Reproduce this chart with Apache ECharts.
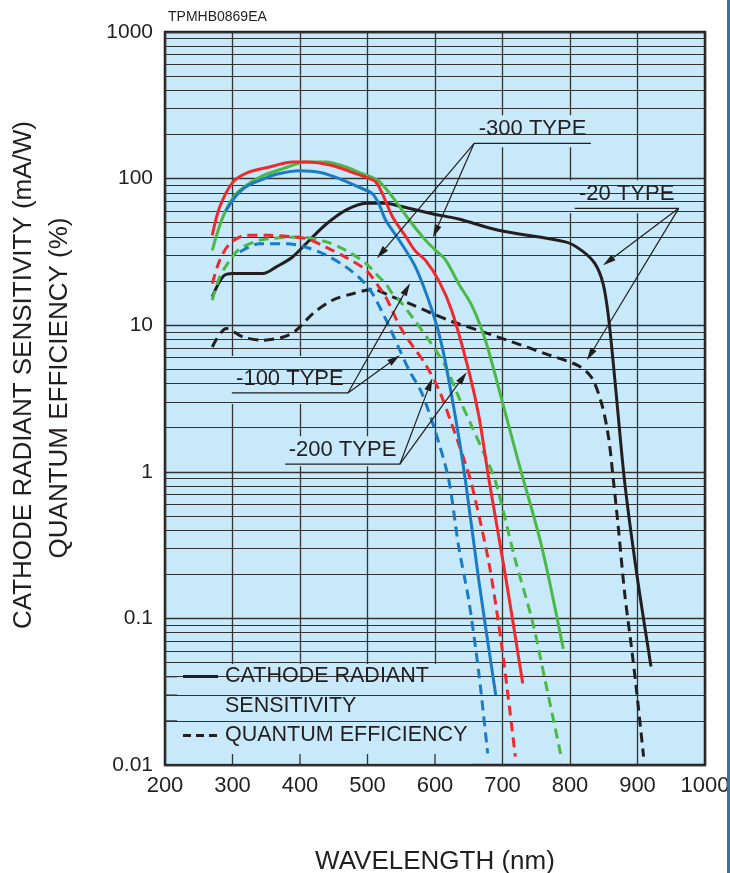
<!DOCTYPE html>
<html>
<head>
<meta charset="utf-8">
<script src="https://cdn.jsdelivr.net/npm/echarts@6/dist/echarts.min.js"></script>
<style>
html, body { margin: 0; padding: 0; background: #fff; }
#chart { width: 730px; height: 873px; }
</style>
</head>
<body>
<div id="chart"></div>
<script>
// [wavelength nm, value] pairs
// solid = cathode radiant sensitivity (mA/W), dashed = quantum efficiency (%)
const type100Sens = [[290,60],[305,76],[320,88],[340,97],[365,107],[400,113],[430,110],[458,100],[488,87],[507,79],[517,67],[527,52],[547,38],[571,25],[596,12.5],[611,7],[630,2.4],[645,0.88],[665,0.18],[690,0.03]];
const type200Sens = [[270,41],[281,64],[301,95],[325,111],[355,120],[389,130],[409,130],[448,123],[478,110],[498,102],[512,95],[522,79],[537,55],[557,40],[571,32],[586,27.7],[606,20],[625,12.5],[650,4.9],[665,2.4],[680,0.88],[704,0.2],[730,0.036]];
const type300Sens = [[270,32.4],[286,55],[306,79],[340,102],[375,117],[409,130],[439,130],[468,120],[488,110],[507,102],[517,96],[537,75],[562,52],[586,38],[601,32.4],[616,27.7],[635,19.2],[655,13.5],[675,7.8],[699,3.1],[724,1.15],[758,0.31],[790,0.062]];
const type20Sens = [[270,15.6],[286,21.5],[301,22.5],[345,22.5],[365,25],[389,29.2],[414,38],[439,49],[468,61],[498,68],[527,68],[547,65],[596,57.6],[635,53],[694,44.4],[793,37],[817,32.4],[837,26.3],[849,19.2],[857,11.4],[867,4],[881,0.85],[899,0.2],[920,0.047]];

const type100QE = [[311,31.6],[340,36],[380,36],[409,34],[439,30],[468,25],[493,20],[507,16.5],[527,11],[547,6.9],[562,4.9],[581,3.4],[606,1.56],[621,0.85],[635,0.31],[650,0.133],[665,0.042],[678,0.012]];
const type200QE = [[270,19.2],[281,27.7],[296,36],[320,41],[355,41],[389,40],[409,39],[439,34],[468,29],[498,23.7],[517,18.2],[527,15.6],[537,12.5],[547,10],[557,8.4],[567,7.2],[586,5.4],[606,3.6],[625,2.1],[645,1.14],[655,0.8],[680,0.237],[699,0.064],[719,0.0114]];
const type300QE = [[270,14.8],[281,21.3],[296,27.7],[311,33.3],[340,38],[355,39],[399,40],[439,37],[468,32.4],[498,26.3],[517,21.3],[527,19.2],[537,16.4],[547,14.8],[566,11.4],[591,7.9],[616,5.2],[635,3.24],[655,2.02],[675,1.26],[690,0.85],[719,0.25],[744,0.097],[763,0.038],[788,0.0108]];
const type20QE = [[270,7.1],[291,9.5],[316,8.3],[345,7.9],[375,8.3],[394,9.2],[419,12],[448,14.8],[478,16.4],[508,17.5],[537,15.6],[566,13.8],[596,12],[625,10.6],[665,9.2],[714,7.7],[763,6.4],[812,5.3],[832,4.4],[847,2.9],[857,1.73],[864,0.9],[872,0.4],[881,0.148],[891,0.064],[899,0.031],[909,0.0114]];

const yTickLabels = ['0.01', '0.1', '1', '10', '100', '1000'];
const xTickLabels = ['200', '300', '400', '500', '600', '700', '800', '900', '1000'];
const decades = [0.01, 0.1, 1, 10, 100];
const minorSteps = [2, 3, 4, 5, 6, 7, 8, 9];

// callouts: underline ends and arrow tips, in [nm, value]
const callouts = [
  { text: '-300 TYPE', line: [[658, 174], [831, 174]], from: 0, tips: [[597, 39.7], [514, 28.6]], clear: [28, 4] },
  { text: '-20 TYPE', line: [[807, 62.7], [961, 62.7]], from: 1, tips: [[849, 25.6], [825, 5.76]], clear: [28, 5] },
  { text: '-100 TYPE', line: [[299, 3.45], [471, 3.45]], from: 1, tips: [[563, 19.3], [548, 6.23]], clear: [37, 11] },
  { text: '-200 TYPE', line: [[378, 1.127], [548, 1.127]], from: 1, tips: [[596, 4.35], [647, 4.78]], clear: [28, 2] }
];

const ink = '#231f20';
const plotBg = '#c7e9f9';
const font = '"Liberation Sans", Arial, Helvetica, sans-serif';

const chart = echarts.init(document.getElementById('chart'));

const curve = (name, data, color, dashed) => ({
  name: name,
  type: 'line',
  data: data,
  showSymbol: false,
  smooth: 0.3,
  z: 5,
  silent: true,
  lineStyle: { color: color, width: 3, type: dashed ? [10, 6] : 'solid' }
});

const minorVals = [];
decades.forEach(d => minorSteps.forEach(k => minorVals.push(+(d * k).toPrecision(3))));

const option = {
  animation: false,
  grid: {
    left: 165, top: 32, width: 540, height: 733,
    containLabel: false, outerBoundsMode: 'none',
    show: true, backgroundColor: plotBg, borderColor: ink, borderWidth: 2.5
  },
  xAxis: {
    type: 'value', min: 200, max: 1000, interval: 100,
    axisLine: { show: false }, axisTick: { show: false },
    axisLabel: {
      margin: 10, color: ink, fontSize: 22, fontFamily: font,
      formatter: v => xTickLabels[Math.round((v - 200) / 100)]
    },
    splitLine: { show: true, lineStyle: { color: '#333', width: 1.3 } },
    name: 'WAVELENGTH (nm)', nameLocation: 'middle', nameGap: 84,
    nameTextStyle: { color: ink, fontSize: 26, fontFamily: font }
  },
  yAxis: {
    type: 'log', logBase: 10, min: 0.01, max: 1000, splitNumber: 5,
    axisLine: { show: false }, axisTick: { show: false },
    axisLabel: {
      margin: 12, color: ink, fontSize: 21, fontFamily: font,
      formatter: v => yTickLabels[Math.round(Math.log10(v)) + 2]
    },
    splitLine: { show: true, lineStyle: { color: '#333', width: 1.3 } }
  },
  series: [
    {
      type: 'line', data: [], z: 1, silent: true,
      markLine: {
        silent: true, animation: false, symbol: ['none', 'none'],
        label: { show: false },
        lineStyle: { color: '#333', width: 1.2, type: 'solid' },
        data: minorVals.map(v => ({ yAxis: v }))
      }
    },
    curve('-20 sens', type20Sens, ink, false),
    curve('-20 QE', type20QE, ink, true),
    curve('-300 QE', type300QE, '#4cb848', true),
    curve('-200 QE', type200QE, '#ee2a2e', true),
    curve('-100 QE', type100QE, '#1b7bc4', true),
    curve('-300 sens', type300Sens, '#4cb848', false),
    curve('-200 sens', type200Sens, '#ee2a2e', false),
    curve('-100 sens', type100Sens, '#1b7bc4', false)
  ]
};
chart.setOption(option);

const px = p => chart.convertToPixel({ gridIndex: 0 }, p);
const g = [];

function arrow(o, p) {
  const dx = p[0] - o[0], dy = p[1] - o[1];
  const L = Math.hypot(dx, dy), ux = dx / L, uy = dy / L;
  const hl = 13, hw = 3.5;
  const bx = p[0] - ux * hl, by = p[1] - uy * hl;
  g.push({ type: 'line', z: 6, silent: true, shape: { x1: o[0], y1: o[1], x2: bx, y2: by }, style: { stroke: ink, lineWidth: 1.2 } });
  g.push({ type: 'polygon', z: 6, silent: true, shape: { points: [[p[0], p[1]], [bx - uy * hw, by + ux * hw], [bx + uy * hw, by - ux * hw]] }, style: { fill: ink } });
}

callouts.forEach(c => {
  const a = px(c.line[0]), b = px(c.line[1]);
  const y = a[1];
  g.push({ type: 'rect', z: 2, silent: true, shape: { x: a[0] - 6, y: y - c.clear[0], width: b[0] - a[0] + 12, height: c.clear[0] + c.clear[1] }, style: { fill: plotBg } });
  g.push({ type: 'line', z: 6, silent: true, shape: { x1: a[0], y1: y, x2: b[0], y2: y }, style: { stroke: ink, lineWidth: 1.3 } });
  g.push({ type: 'text', z: 6, silent: true, x: (a[0] + b[0]) / 2, y: y - 14, style: { text: c.text, fill: ink, font: '22px ' + font, textAlign: 'center', textVerticalAlign: 'middle' } });
  const o = c.from === 0 ? a : b;
  c.tips.forEach(t => arrow(o, px(t)));
});

// legend box in the lower-left corner of the plot
const lb0 = px([200, 0.05]), lb1 = px([655, 0.01]);
g.push({ type: 'rect', z: 2, silent: true, shape: { x: lb0[0] + 2, y: lb0[1] + 1.5, width: lb1[0] - lb0[0] - 2, height: lb1[1] - lb0[1] - 3 }, style: { fill: plotBg } });
[0.02, 0.03, 0.04].forEach(v => {
  const p = px([200, v]);
  g.push({ type: 'line', z: 3, silent: true, shape: { x1: p[0], y1: p[1], x2: p[0] + 12, y2: p[1] }, style: { stroke: '#333', lineWidth: 1.2 } });
});
[300, 400, 500, 600].forEach(v => {
  const p = px([v, 0.01]);
  g.push({ type: 'line', z: 3, silent: true, shape: { x1: p[0], y1: p[1], x2: p[0], y2: p[1] - 11 }, style: { stroke: '#333', lineWidth: 1.3 } });
});
const lx = lb0[0], ly = lb0[1];
g.push({ type: 'line', z: 6, silent: true, shape: { x1: lx + 18, y1: ly + 14, x2: lx + 53, y2: ly + 14 }, style: { stroke: ink, lineWidth: 3 } });
g.push({ type: 'line', z: 6, silent: true, shape: { x1: lx + 18, y1: ly + 73, x2: lx + 53, y2: ly + 73 }, style: { stroke: ink, lineWidth: 3, lineDash: [8, 5] } });
[['CATHODE RADIANT', 14], ['SENSITIVITY', 44], ['QUANTUM EFFICIENCY', 73]].forEach(([t, dy]) => {
  g.push({ type: 'text', z: 6, silent: true, x: lx + 60, y: ly + dy, style: { text: t, fill: ink, font: '21.5px ' + font, textAlign: 'left', textVerticalAlign: 'middle' } });
});

// axis titles and figure code
g.push({ type: 'text', z: 6, silent: true, x: 24, y: 375, rotation: Math.PI / 2, style: { text: 'CATHODE RADIANT SENSITIVITY (mA/W)', fill: ink, font: '26px ' + font, textAlign: 'center', textVerticalAlign: 'middle' } });
g.push({ type: 'text', z: 6, silent: true, x: 60, y: 388, rotation: Math.PI / 2, style: { text: 'QUANTUM EFFICIENCY (%)', fill: ink, font: '26px ' + font, textAlign: 'center', textVerticalAlign: 'middle' } });
g.push({ type: 'text', z: 6, silent: true, x: 168, y: 17, style: { text: 'TPMHB0869EA', fill: ink, font: '14px ' + font, textAlign: 'left', textVerticalAlign: 'middle' } });

// page edge rule on the right
g.push({ type: 'rect', z: 10, silent: true, shape: { x: 727, y: 0, width: 3, height: 873 }, style: { fill: '#3f6f9f' } });

chart.setOption({ graphic: g });
</script>
</body>
</html>
